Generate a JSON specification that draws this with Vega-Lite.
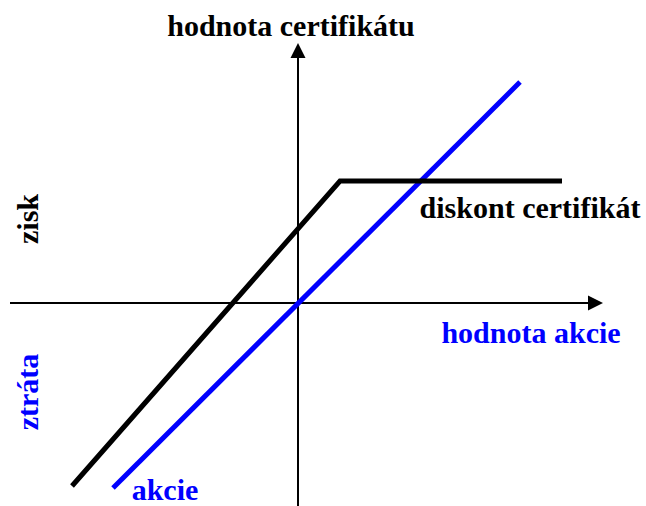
{
  "$schema": "https://vega.github.io/schema/vega-lite/v6.json",
  "width": 646,
  "height": 506,
  "autosize": {"type": "none"},
  "padding": 0,
  "background": "white",
  "config": {"view": {"stroke": null}},
  "datasets": {
    "akcie": [{"x": -185, "y": -185}, {"x": 222, "y": 221}],
    "certifikat": [{"x": -226, "y": -183}, {"x": 42, "y": 122}, {"x": 264, "y": 122}],
    "haxis": [{"x": -288, "x2": 300, "y": 0}],
    "vaxis": [{"x": 0, "y": -203, "y2": 255}],
    "arrowRight": [{"x": 305, "y": 0}],
    "arrowUp": [{"x": 0, "y": 260}],
    "blackLabels": [
      {"x": -7, "y": 267, "label": "hodnota certifikátu"},
      {"x": 232, "y": 85, "label": "diskont certifikát"}
    ],
    "blueLabels": [
      {"x": 233, "y": -40, "label": "hodnota akcie"},
      {"x": -133, "y": -197, "label": "akcie"}
    ],
    "zisk": [{"x": -260, "y": 84, "label": "zisk"}],
    "ztrata": [{"x": -260, "y": -89, "label": "ztráta"}]
  },
  "layer": [
    {
      "data": {"name": "haxis"},
      "mark": {"type": "rule", "color": "black", "strokeWidth": 2},
      "encoding": {
        "x": {"field": "x", "type": "quantitative", "scale": {"domain": [-298, 348], "nice": false, "zero": false}, "axis": null},
        "x2": {"field": "x2"},
        "y": {"field": "y", "type": "quantitative", "scale": {"domain": [-203, 303], "nice": false, "zero": false}, "axis": null}
      }
    },
    {
      "data": {"name": "vaxis"},
      "mark": {"type": "rule", "color": "black", "strokeWidth": 2},
      "encoding": {
        "x": {"field": "x", "type": "quantitative"},
        "y": {"field": "y", "type": "quantitative"},
        "y2": {"field": "y2"}
      }
    },
    {
      "data": {"name": "arrowRight"},
      "mark": {"type": "point", "shape": "M0,0L-1,-0.5L-1,0.5Z", "size": 900, "filled": true, "color": "black", "opacity": 1},
      "encoding": {
        "x": {"field": "x", "type": "quantitative"},
        "y": {"field": "y", "type": "quantitative"}
      }
    },
    {
      "data": {"name": "arrowUp"},
      "mark": {"type": "point", "shape": "M0,0L-0.5,1L0.5,1Z", "size": 900, "filled": true, "color": "black", "opacity": 1},
      "encoding": {
        "x": {"field": "x", "type": "quantitative"},
        "y": {"field": "y", "type": "quantitative"}
      }
    },
    {
      "data": {"name": "akcie"},
      "mark": {"type": "line", "color": "#0000ff", "strokeWidth": 5},
      "encoding": {
        "x": {"field": "x", "type": "quantitative"},
        "y": {"field": "y", "type": "quantitative"}
      }
    },
    {
      "data": {"name": "certifikat"},
      "mark": {"type": "line", "color": "black", "strokeWidth": 5},
      "encoding": {
        "x": {"field": "x", "type": "quantitative"},
        "y": {"field": "y", "type": "quantitative"}
      }
    },
    {
      "data": {"name": "blackLabels"},
      "mark": {"type": "text", "font": "Liberation Serif", "fontWeight": "bold", "fontSize": 30, "color": "black", "align": "center", "baseline": "alphabetic"},
      "encoding": {
        "x": {"field": "x", "type": "quantitative"},
        "y": {"field": "y", "type": "quantitative"},
        "text": {"field": "label"}
      }
    },
    {
      "data": {"name": "blueLabels"},
      "mark": {"type": "text", "font": "Liberation Serif", "fontWeight": "bold", "fontSize": 30, "color": "#0000ff", "align": "center", "baseline": "alphabetic"},
      "encoding": {
        "x": {"field": "x", "type": "quantitative"},
        "y": {"field": "y", "type": "quantitative"},
        "text": {"field": "label"}
      }
    },
    {
      "data": {"name": "zisk"},
      "mark": {"type": "text", "font": "Liberation Serif", "fontWeight": "bold", "fontSize": 30, "color": "black", "align": "center", "baseline": "alphabetic", "angle": 270},
      "encoding": {
        "x": {"field": "x", "type": "quantitative"},
        "y": {"field": "y", "type": "quantitative"},
        "text": {"field": "label"}
      }
    },
    {
      "data": {"name": "ztrata"},
      "mark": {"type": "text", "font": "Liberation Serif", "fontWeight": "bold", "fontSize": 30, "color": "#0000ff", "align": "center", "baseline": "alphabetic", "angle": 270},
      "encoding": {
        "x": {"field": "x", "type": "quantitative"},
        "y": {"field": "y", "type": "quantitative"},
        "text": {"field": "label"}
      }
    }
  ]
}
